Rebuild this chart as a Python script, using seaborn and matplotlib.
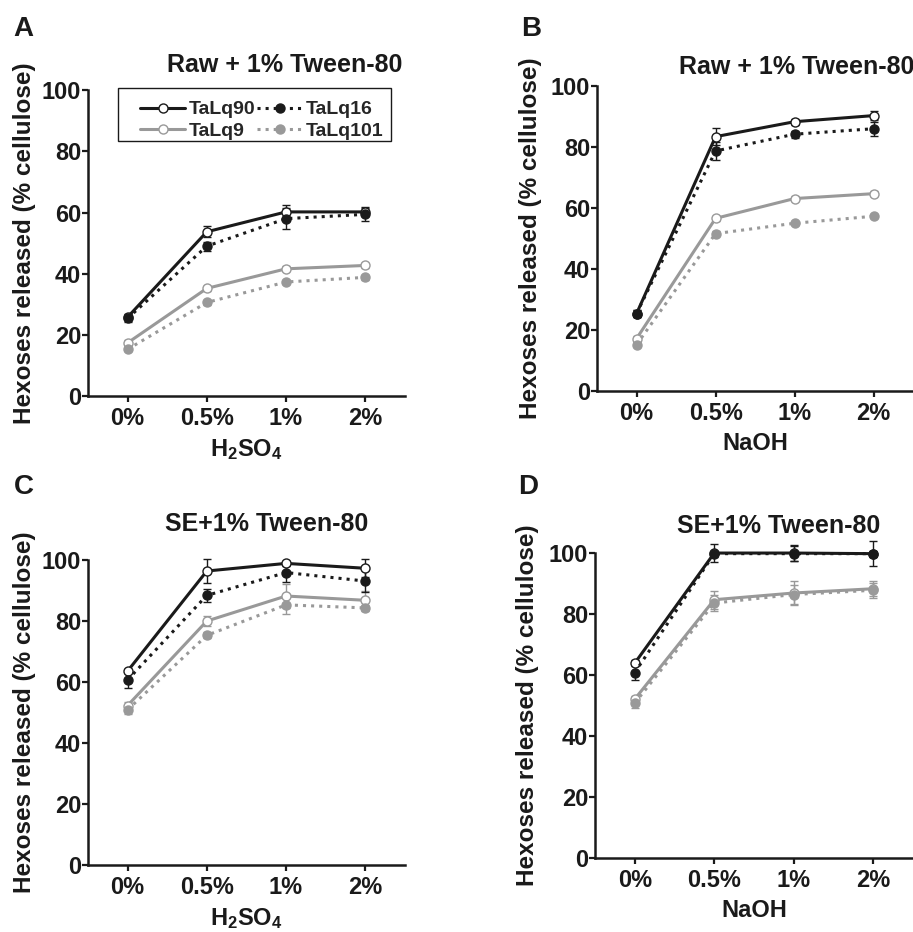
import matplotlib
matplotlib.use("Agg")
import pandas as pd
import matplotlib.pyplot as plt
import seaborn as sns
from matplotlib.lines import Line2D
from matplotlib.patches import Rectangle

sns.set_style("ticks")
plt.rcParams['font.family'] = ['Liberation Sans', 'DejaVu Sans']
plt.rcParams['font.weight'] = 'bold'
plt.rcParams['mathtext.fontset'] = 'custom'
plt.rcParams['mathtext.rm'] = 'Liberation Sans:bold'
plt.rcParams['mathtext.it'] = 'Liberation Sans:bold'
plt.rcParams['mathtext.bf'] = 'Liberation Sans:bold'

# --- data ---
doses = ["0%", "0.5%", "1%", "2%"]
strains = ["TaLq90", "TaLq16", "TaLq9", "TaLq101"]

# A: raw + 1% Tween-80, H2SO4
raw_h2so4 = {
    "TaLq90": [25.8, 53.7, 60.2, 60.2],
    "TaLq16": [25.4, 49.0, 58.0, 59.4],
    "TaLq9": [17.4, 35.2, 41.6, 42.7],
    "TaLq101": [15.3, 30.6, 37.3, 38.8],
}
raw_h2so4_err = {
    "TaLq90": [1.0, 1.8, 2.3, 1.5],
    "TaLq16": [1.2, 1.5, 3.5, 2.2],
    "TaLq9": [0.8, 0.8, 0.8, 0.8],
    "TaLq101": [0.7, 0.7, 0.7, 0.7],
}

# B: raw + 1% Tween-80, NaOH
raw_naoh = {
    "TaLq90": [25.4, 83.4, 88.3, 90.3],
    "TaLq16": [25.4, 78.7, 84.2, 86.0],
    "TaLq9": [17.2, 56.6, 63.1, 64.7],
    "TaLq101": [15.2, 51.6, 55.0, 57.3],
}
raw_naoh_err = {
    "TaLq90": [1.2, 2.8, 1.0, 1.5],
    "TaLq16": [1.3, 3.0, 1.2, 2.3],
    "TaLq9": [0.8, 0.8, 0.8, 0.8],
    "TaLq101": [0.7, 0.7, 0.7, 0.7],
}

# C: SE + 1% Tween-80, H2SO4
se_h2so4 = {
    "TaLq90": [63.6, 96.4, 98.9, 97.3],
    "TaLq16": [60.7, 88.4, 95.9, 93.1],
    "TaLq9": [52.3, 80.0, 88.2, 86.8],
    "TaLq101": [50.9, 75.3, 85.3, 84.3],
}
se_h2so4_err = {
    "TaLq90": [0.8, 4.0, 0.8, 3.0],
    "TaLq16": [2.5, 2.0, 3.0, 3.5],
    "TaLq9": [1.0, 1.5, 4.0, 3.0],
    "TaLq101": [1.5, 1.0, 3.0, 1.0],
}

# D: SE + 1% Tween-80, NaOH
se_naoh = {
    "TaLq90": [63.9, 100.0, 100.0, 99.8],
    "TaLq16": [60.8, 99.8, 99.8, 99.8],
    "TaLq9": [52.1, 84.7, 86.9, 88.3],
    "TaLq101": [50.8, 83.6, 86.4, 87.8],
}
se_naoh_err = {
    "TaLq90": [1.0, 3.0, 2.5, 4.0],
    "TaLq16": [2.5, 1.0, 2.5, 1.0],
    "TaLq9": [1.0, 3.0, 4.0, 2.5],
    "TaLq101": [1.5, 2.5, 3.0, 2.5],
}

BLACK = "#1a1a1a"
GRAY = "#999999"
styles = {
    "TaLq90": dict(color=BLACK, linestyle="-", markerfacecolor="white", markeredgecolor=BLACK),
    "TaLq16": dict(color=BLACK, linestyle=":", markerfacecolor=BLACK, markeredgecolor=BLACK),
    "TaLq9": dict(color=GRAY, linestyle="-", markerfacecolor="white", markeredgecolor=GRAY),
    "TaLq101": dict(color=GRAY, linestyle=":", markerfacecolor=GRAY, markeredgecolor=GRAY),
}
draw_order = ["TaLq9", "TaLq101", "TaLq90", "TaLq16"]

fig = plt.figure(figsize=(9.13, 9.32), dpi=100)

panels = [
    # letter, rect, means, errs, xlabel, title, title pos, letter pos, ylabel x
    ("A", [0.0964, 0.575, 0.347, 0.3283], raw_h2so4, raw_h2so4_err,
     r"H$_{2}$SO$_{4}$", "Raw + 1% Tween-80", (0.621, 1.059), (0.015, 0.969), -0.165),
    ("B", [0.654, 0.5805, 0.346, 0.3272], raw_naoh, raw_naoh_err,
     "NaOH", "Raw + 1% Tween-80", (0.633, 1.039), (0.571, 0.969), -0.175),
    ("C", [0.0964, 0.0719, 0.347, 0.3272], se_h2so4, se_h2so4_err,
     r"H$_{2}$SO$_{4}$", "SE+1% Tween-80", (0.565, 1.095), (0.015, 0.477), -0.165),
    ("D", [0.6517, 0.0794, 0.3483, 0.3272], se_naoh, se_naoh_err,
     "NaOH", "SE+1% Tween-80", (0.579, 1.066), (0.567, 0.477), -0.175),
]

for letter, rect, means, errs, xlab, title, tpos, lpos, ylx in panels:
    ax = fig.add_axes(rect)
    for s in draw_order:
        df = pd.DataFrame({"pos": range(len(doses)), "val": means[s]})
        st = styles[s]
        ax.errorbar(df["pos"], df["val"], yerr=errs[s], fmt="none",
                    ecolor=st["color"], elinewidth=1.0, capsize=3, capthick=1.0,
                    clip_on=False, zorder=2)
        sns.lineplot(data=df, x="pos", y="val", ax=ax, legend=False,
                     color=st["color"], linestyle=st["linestyle"], linewidth=2.2,
                     marker="o", markersize=6.5, markeredgewidth=1.0,
                     markerfacecolor=st["markerfacecolor"],
                     markeredgecolor=st["markeredgecolor"],
                     clip_on=False, zorder=3)
    ax.set_xlim(-0.5, 3.5)
    ax.set_ylim(0, 100)
    ax.set_xticks(range(len(doses)))
    ax.set_xticklabels(doses)
    ax.set_yticks([0, 20, 40, 60, 80, 100])
    sns.despine(ax=ax)
    for sp in ["left", "bottom"]:
        ax.spines[sp].set_linewidth(1.8)
        ax.spines[sp].set_color(BLACK)
    ax.tick_params(axis="both", labelsize=17, width=1.6, length=4, color=BLACK,
                   labelcolor=BLACK)
    ax.tick_params(axis="y", pad=1)
    ax.tick_params(axis="x", pad=4)
    ax.set_xlabel(xlab, fontsize=17, fontweight="bold", labelpad=5, color=BLACK)
    ax.set_ylabel("Hexoses released (% cellulose)", fontsize=17.5,
                  fontweight="bold", color=BLACK)
    ax.yaxis.set_label_coords(ylx, 0.5)
    ax.text(tpos[0], tpos[1], title, transform=ax.transAxes, ha="center",
            va="baseline", fontsize=18, fontweight="bold", color=BLACK)
    fig.text(lpos[0], lpos[1], letter, fontsize=20, fontweight="bold",
             color=BLACK, va="center", ha="left")
    ax.grid(False)

    if letter == "A":
        handles = []
        for s in ["TaLq90", "TaLq9", "TaLq16", "TaLq101"]:
            st = styles[s]
            handles.append(Line2D([], [], color=st["color"], linestyle=st["linestyle"],
                                  linewidth=2.2, marker="o", markersize=6.5,
                                  markeredgewidth=1.0,
                                  markerfacecolor=st["markerfacecolor"],
                                  markeredgecolor=st["markeredgecolor"]))
        ax.add_patch(Rectangle((0.0946, 0.833), 0.8614, 0.1735,
                               transform=ax.transAxes, fill=False,
                               edgecolor=BLACK, linewidth=1.0, clip_on=False))
        leg = ax.legend(handles, ["TaLq90", "TaLq9", "TaLq16", "TaLq101"], ncol=2,
                        loc="upper left", bbox_to_anchor=(0.165, 0.965),
                        fontsize=14, frameon=False,
                        handlelength=2.3, handletextpad=0.2, columnspacing=0.1,
                        labelspacing=0.2, borderpad=0, borderaxespad=0)
        for t in leg.get_texts():
            t.set_fontweight("bold")

fig.savefig("out.png", dpi=100)
